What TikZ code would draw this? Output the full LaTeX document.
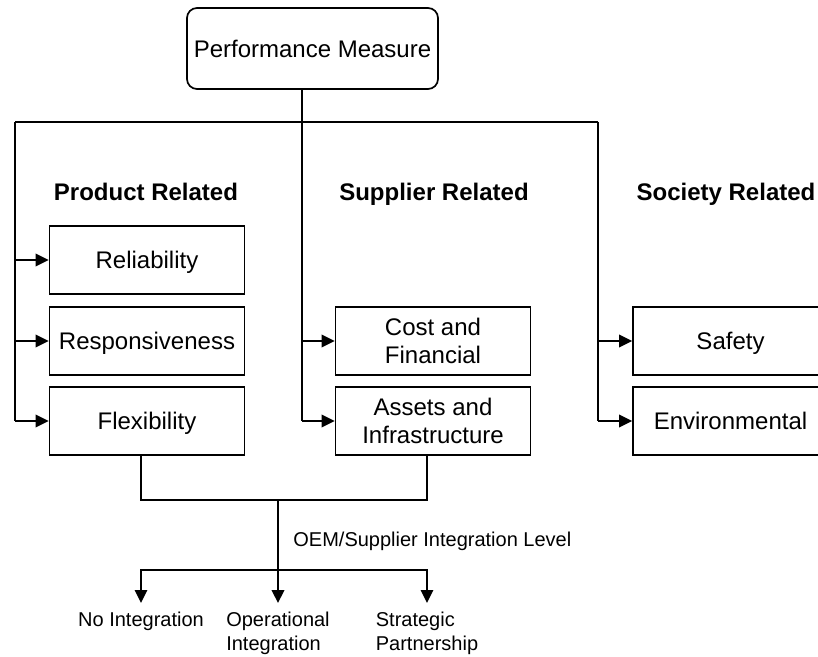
\documentclass[tikz,border=0pt]{standalone}
\usepackage{fontspec}
\setmainfont{Liberation Sans}
\usetikzlibrary{arrows.meta}

\tikzset{
  rootbox/.style={draw, line width=0.85pt, rounded corners=5pt, minimum width=125.5pt, minimum height=40.5pt, inner sep=0pt, text height=8.6pt, text depth=0pt, font=\fontsize{12}{14}\selectfont},
  measure/.style={draw, line width=0.85pt, minimum width=97.5pt, minimum height=34pt, inner sep=0pt, align=center, font=\fontsize{12}{14}\selectfont},
  onerow/.style={measure, text height=8.6pt, text depth=0pt},
  heading/.style={anchor=base, inner sep=0pt, font=\fontsize{12}{14}\selectfont\bfseries},
  level/.style={anchor=north, align=left, inner xsep=0pt, inner ysep=4.5pt, font=\fontsize{10}{12}\selectfont},
  link/.style={line width=0.55pt},
  feed/.style={line width=1.15pt, -{Triangle[length=6.5pt,width=6.2pt]}},
  choice/.style={line width=1.0pt, {Triangle[length=6.5pt,width=6.2pt]}-{Triangle[length=6.5pt,width=6.2pt]}},
}

\begin{document}
\begin{tikzpicture}[x=0.5pt,y=-0.5pt]
\useasboundingbox (0,0) rectangle (818,657);

\node[rootbox] (pm) at (312.5,48.5) {Performance Measure};

\node[heading] (prodhead) at (146,201) {Product Related};
\node[heading] (supphead) at (434,201) {Supplier Related};
\node[heading] (sochead) at (726,201) {Society Related};

\node[onerow] (reliab) at (147,260) {Reliability};
\node[onerow] (respons) at (147,341) {Responsiveness};
\node[onerow] (flex) at (147,421) {Flexibility};

\node[measure] (cost) at (433,341) {Cost and\\Financial};
\node[measure] (assets) at (433,421) {Assets and\\Infrastructure};

\node[onerow] (safety) at (730.5,341) {Safety};
\node[onerow] (env) at (730.5,421) {Environmental};

\node[level] (noint) at (141,603) {No Integration};
\node[level] (opint) at (278,603) {Operational\\Integration};
\node[level] (strat) at (427,603) {Strategic\\Partnership};
\node[anchor=base west, inner sep=0pt, font=\fontsize{10}{12}\selectfont] (oemlabel) at (293,546) {OEM/Supplier Integration Level};

% bus lines
\coordinate (trunk) at (302,89);
\coordinate (lbus) at (15,122);
\coordinate (rbus) at (598,122);
\draw[link] (lbus) -- (rbus);
\draw[link] (lbus) -- (lbus |- flex.west);
\draw[link] (trunk) -- (trunk |- assets.west);
\draw[link] (rbus) -- (rbus |- env.west);

\foreach \b in {reliab,respons,flex}
  \draw[feed] (lbus |- \b.west) -- (\b.west);
\foreach \b in {cost,assets}
  \draw[feed] (trunk |- \b.west) -- (\b.west);
\foreach \b in {safety,env}
  \draw[feed] (rbus |- \b.west) -- (\b.west);

% integration level
\coordinate (joinl) at (141,500);
\coordinate (joinr) at (427,500);
\coordinate (hub) at (278,500);
\coordinate (fork) at (278,570);
\draw[link, line width=0.85pt] (flex.south -| joinl) -- (joinl) -- (joinr) -- (assets.south -| joinr);
\draw[line width=1.35pt, -{Triangle[length=6.5pt,width=6.2pt]}] (hub) -- (opint.north);
\draw[choice] (noint.north) -- (noint.north |- fork) -- (strat.north |- fork) -- (strat.north);

\end{tikzpicture}
\end{document}
